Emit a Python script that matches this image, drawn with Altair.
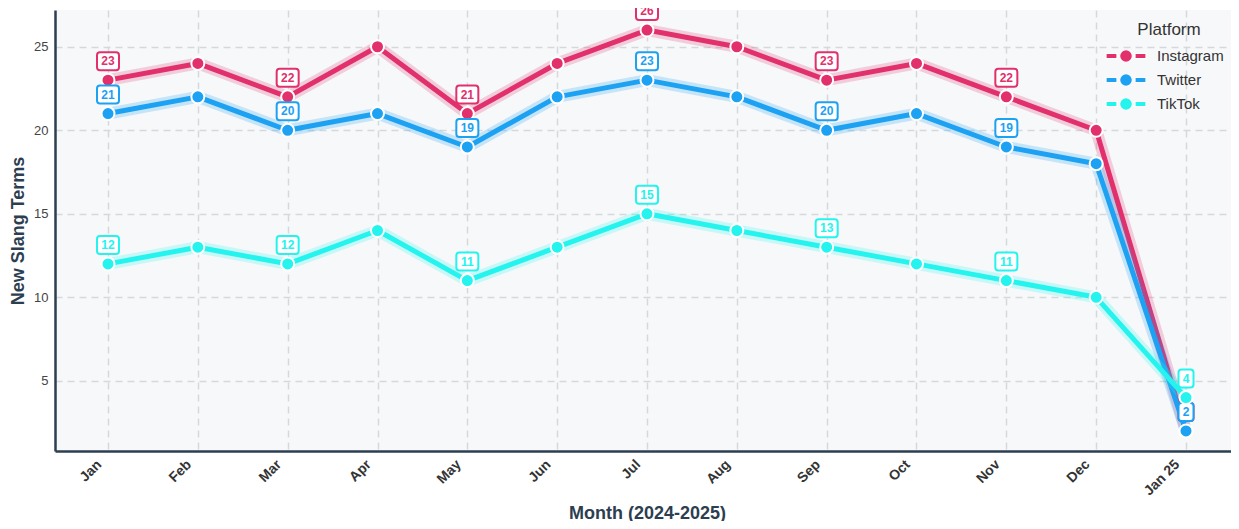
import altair as alt
import pandas as pd

months = ["Jan", "Feb", "Mar", "Apr", "May", "Jun", "Jul", "Aug", "Sep", "Oct", "Nov", "Dec", "Jan 25"]
platforms = ["Instagram", "Twitter", "TikTok"]
instagram = [23, 24, 22, 25, 21, 24, 26, 25, 23, 24, 22, 20, 2]
twitter = [21, 22, 20, 21, 19, 22, 23, 22, 20, 21, 19, 18, 2]
tiktok = [12, 13, 12, 14, 11, 13, 15, 14, 13, 12, 11, 10, 4]
colors = ["#E1306C", "#1DA1F2", "#25F4EE"]
y_ticks = [5, 10, 15, 20, 25]

series = {"Instagram": instagram, "Twitter": twitter, "TikTok": tiktok}
rows = []
for p in platforms:
    for i, (m, v) in enumerate(zip(months, series[p])):
        rows.append({"month": m, "platform": p, "value": v,
                     "show": i % 2 == 0, "digits": str(len(str(v)))})
df = pd.DataFrame(rows)

FONT = "Liberation Sans"


def rrect(w, h, r):
    s = 11.0
    x, y, rr = w / 2 / s, h / 2 / s, r / s
    return (f"M {-x+rr} {-y} L {x-rr} {-y} Q {x} {-y} {x} {-y+rr} L {x} {y-rr} Q {x} {y} {x-rr} {y} "
            f"L {-x+rr} {y} Q {-x} {y} {-x} {y-rr} L {-x} {-y+rr} Q {-x} {-y} {-x+rr} {-y} Z")


box1 = rrect(15, 18, 3)
box2 = rrect(22, 18, 3)

# legend glyph: dash - circle - dash, 40 px wide with symbolSize 400 (unit = 10 px)
k = 0.35
legend_path = ("M -2 -0.25 L -0.9 -0.25 L -0.9 0.25 L -2 0.25 Z "
               "M 0.9 -0.25 L 2 -0.25 L 2 0.25 L 0.9 0.25 Z "
               f"M 0.64 0 C 0.64 {k} {k} 0.64 0 0.64 C {-k} 0.64 -0.64 {k} -0.64 0 "
               f"C -0.64 {-k} {-k} -0.64 0 -0.64 C {k} -0.64 0.64 {-k} 0.64 0 Z")

x_enc = alt.X("month:N", sort=months,
              scale=alt.Scale(type="point", padding=0.59, range=[0, 1184]),
              axis=alt.Axis(title="Month (2024-2025)", labelAngle=-45, grid=True,
                            labelAlign="right", labelBaseline="middle", labelOffset=-9))
y_enc = alt.Y("value:Q", scale=alt.Scale(domain=[0.8, 27.2], nice=False, zero=False),
              axis=alt.Axis(title="New Slang Terms", values=y_ticks))

base = alt.Chart(df).encode(x=x_enc, y=y_enc)

layers = []
for i, p in enumerate(platforms):
    c = colors[i]
    sub = base.transform_filter(alt.datum.platform == p)
    halo = sub.mark_line(color=c, strokeWidth=12, opacity=0.22, strokeJoin="round", strokeCap="round")
    line = sub.mark_line(color=c, strokeWidth=5, strokeJoin="round", strokeCap="round")
    if i == 0:
        leg = alt.Legend(title="Platform", orient="none", legendX=1060, legendY=12,
                         symbolType=legend_path, symbolSize=400,
                         symbolStrokeColor="white", symbolStrokeWidth=1.2,
                         symbolOpacity=1, labelFontSize=15, labelColor="#333333",
                         titleFontSize=17, titleFontWeight="normal", titleColor="#333333",
                         titleAnchor="middle", titlePadding=6,
                         titleFont=FONT, labelFont=FONT, rowPadding=4, labelOffset=20)
    else:
        leg = None
    pts = sub.mark_point(filled=True, size=169, stroke="white", strokeWidth=2, opacity=1).encode(
        color=alt.Color("platform:N", scale=alt.Scale(domain=platforms, range=colors), legend=leg)
    )
    lab = sub.transform_filter(alt.datum.show)
    boxes = lab.mark_point(filled=True, fill="white", stroke=c, strokeWidth=2, size=484,
                           opacity=1, yOffset=-19).encode(
        shape=alt.Shape("digits:N", scale=alt.Scale(domain=["1", "2"], range=[box1, box2]), legend=None)
    )
    txt = lab.mark_text(color=c, fontSize=12, fontWeight="bold", font=FONT,
                        yOffset=-19, baseline="middle").encode(text="value:Q")
    layers += [halo, line, pts, boxes, txt]

chart = alt.layer(*layers).properties(
    width=1176, height=441,
    autosize=alt.AutoSizeParams(type="none"),
    padding={"left": 47, "top": 2, "right": 0, "bottom": 70},
).configure(font=FONT).configure_view(
    fill="#F7F8FA", stroke=None
).configure_axis(
    domainColor="#2C3E50", domainWidth=2.5,
    gridColor="#D5D8DC", gridDash=[7, 5], gridWidth=1.5,
    ticks=False, labelPadding=7,
    labelFont=FONT, labelFontSize=13, labelColor="#444444",
    titleFont=FONT, titleFontSize=18, titleFontWeight="bold", titleColor="#2C3E50",
).configure_axisX(
    labelFontWeight="bold", labelColor="#333333", labelFontSize=14, titlePadding=7, labelPadding=11
).configure_axisY(
    titlePadding=6
)

chart.save("out.html", embed_options={"renderer": "svg", "actions": False})
